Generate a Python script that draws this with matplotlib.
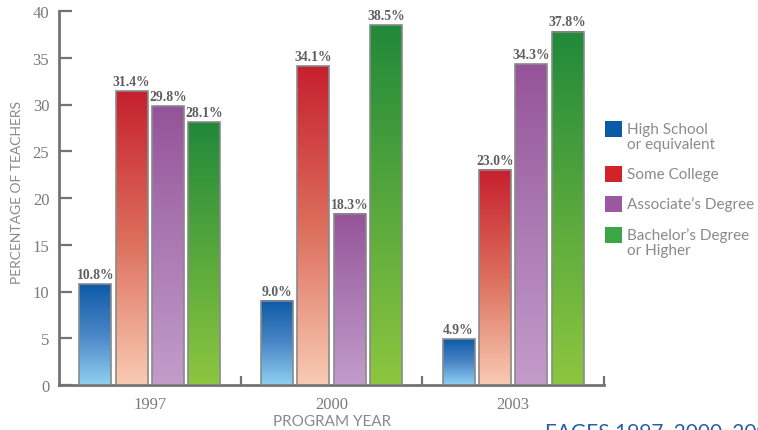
import numpy as np
import matplotlib
matplotlib.use("Agg")
import matplotlib.pyplot as plt
from matplotlib.colors import to_rgb
from matplotlib.patches import Rectangle

# Data
years = ["1997", "2000", "2003"]
categories = ["High School\nor equivalent", "Some College",
              "Associate\u2019s Degree", "Bachelor\u2019s Degree\nor Higher"]
high_school = [10.8, 9.0, 4.9]
some_college = [31.4, 34.1, 23.0]
associates = [29.8, 18.3, 34.3]
bachelors = [28.1, 38.5, 37.8]
series = [high_school, some_college, associates, bachelors]
y_ticks = [0, 5, 10, 15, 20, 25, 30, 35, 40]

# Gradient stops per series (top -> bottom)
gradients = [
    ["#0d5aa7", "#4a86c6", "#8fd0f2"],
    ["#c6202e", "#dc6d5c", "#f9cbb3"],
    ["#955399", "#ab7ab3", "#c39ccb"],
    ["#21893a", "#57a83c", "#8dc63f"],
]
legend_colors = ["#0b5aa8", "#d2232a", "#9a57a2", "#3aa648"]

W, H = 758, 431
fig = plt.figure(figsize=(W / 100, H / 100), dpi=100)
ax = fig.add_axes([59 / W, 1 - 386 / H, (604 - 59) / W, (386 - 12) / H])

gray = "#737373"
label_gray = "#7a7a7a"
serif = ["Liberation Serif", "DejaVu Serif"]
sans = ["Lato", "DejaVu Sans"]


def gradient_image(stops, n=256):
    cols = np.array([to_rgb(c) for c in stops])
    t = np.linspace(0, 1, n)  # 0 = bottom, 1 = top
    pos = np.linspace(0, 1, len(stops))
    cols_b2t = cols[::-1]
    img = np.zeros((n, 1, 3))
    for k in range(3):
        img[:, 0, k] = np.interp(t, pos, cols_b2t[:, k])
    return img


offsets = [-0.3, -0.1, 0.1, 0.3]
width = 0.176
x = np.arange(len(years))
for s, vals in enumerate(series):
    img = gradient_image(gradients[s])
    for i, v in enumerate(vals):
        x0 = x[i] + offsets[s] - width / 2
        ax.imshow(img, extent=[x0, x0 + width, 0, v], origin="lower",
                  aspect="auto", interpolation="bilinear", zorder=2)
        ax.bar(x[i] + offsets[s], v, width=width, facecolor="none",
               edgecolor="#8a8a8a", linewidth=1.2, zorder=3)
        ax.text(x[i] + offsets[s], v + 0.35, f"{v:.1f}%", ha="center",
                va="bottom", fontsize=9.8, fontweight="bold",
                color="#5e5e5e", family=serif, zorder=4)

ax.set_xlim(-0.5, 2.5)
ax.set_ylim(0, 40)

for side in ["top", "right"]:
    ax.spines[side].set_visible(False)
for side in ["left", "bottom"]:
    ax.spines[side].set_color(gray)
    ax.spines[side].set_linewidth(2)

ax.set_yticks(y_ticks)
ax.set_yticklabels([str(t) for t in y_ticks], family=serif, fontsize=12,
                   color=label_gray)
ax.tick_params(axis="y", direction="in", length=9.5, width=1.6,
               color=gray, pad=7)

# group separators as inward ticks, year labels on minor ticks
ax.set_xticks([0.5, 1.5, 2.5])
ax.set_xticklabels([])
ax.tick_params(axis="x", which="major", direction="in", length=6.5,
               width=1.6, color=gray)
ax.set_xticks(x, minor=True)
ax.set_xticklabels(years, minor=True, family=serif, fontsize=12,
                   color=label_gray)
ax.tick_params(axis="x", which="minor", length=0, pad=8)

fig.text(332 / W, 1 - 422 / H, "PROGRAM YEAR", ha="center", va="center",
         fontsize=11, color="#8a8a8a", family=sans)
fig.text(17 / W, 1 - 192 / H, "PERCENTAGE OF TEACHERS", ha="center",
         va="center", rotation=90, fontsize=10, color="#8a8a8a",
         family=sans)

# Legend
sq_tops = [122, 167, 197, 228]
for c, top, name in zip(legend_colors, sq_tops, categories):
    fig.add_artist(Rectangle((605 / W, 1 - (top + 16) / H), 17 / W, 16 / H,
                             transform=fig.transFigure, facecolor=c,
                             edgecolor="none"))
    for j, line in enumerate(name.split("\n")):
        fig.text(627 / W, 1 - (top + 8 + 15 * j) / H, line, ha="left",
                 va="center", fontsize=11, color="#8a8a8a", family=sans)

fig.text(545 / W, 1 - 438 / H, "FAGES 1997, 2000, 2003", ha="left",
         va="baseline", fontsize=15, color="#2a5ea8", family=sans)

fig.savefig("out.png", dpi=100)
